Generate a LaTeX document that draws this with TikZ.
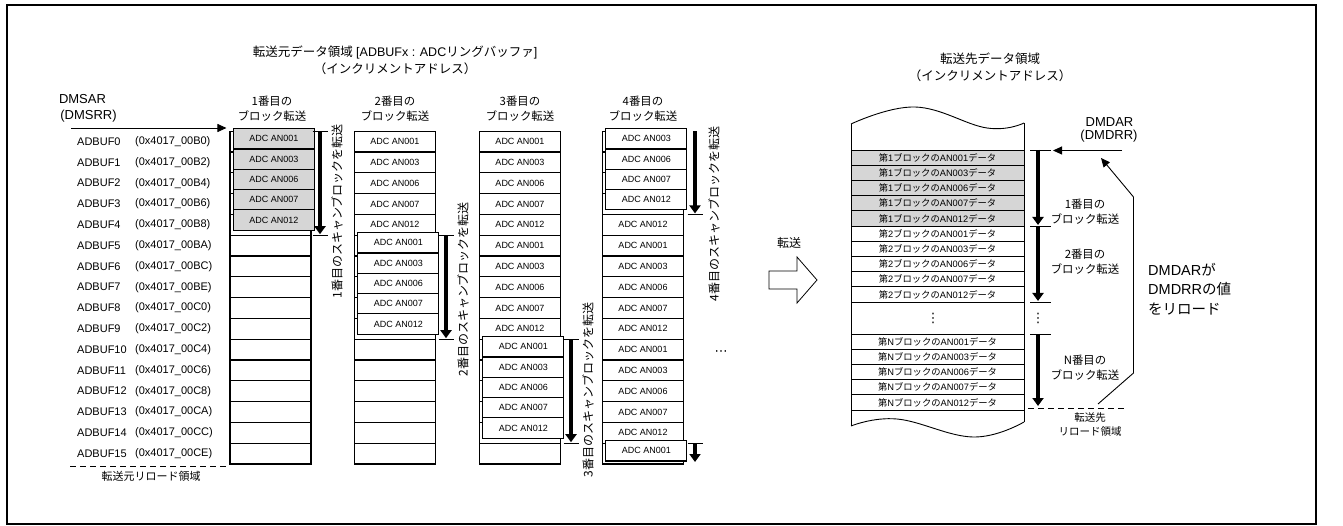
\documentclass[tikz,border=0pt]{standalone}
\usepackage{fontspec}
\setmainfont{Liberation Sans}
\newfontfamily\jpfont{Noto Sans CJK JP}
\newfontfamily\symfont{DejaVu Sans}
\newcommand{\J}[1]{{\jpfont #1}}
\usetikzlibrary{arrows.meta}

\begin{document}
\begin{tikzpicture}[x=1pt, y=-1pt, >={Triangle[length=9pt, width=8pt]},
  cell/.style={draw, line width=1.1pt, fill=white, minimum width=81pt,
    minimum height=20.8pt, inner sep=0pt, font=\fontsize{9}{10}\selectfont},
  ocell/.style={cell, minimum height=20.3pt},
  gcell/.style={ocell, fill=gray!32},
  dcell/.style={draw, line width=0.8pt, minimum width=173pt,
    minimum height=15.2pt, inner sep=0pt, font=\fontsize{9.3}{10}\selectfont},
  addr/.style={anchor=west, inner sep=0pt, font=\fontsize{11}{12}\selectfont},
  head/.style={align=center, inner sep=0pt, font=\fontsize{11.4}{15}\selectfont\jpfont},
  title/.style={align=center, inner sep=0pt, font=\fontsize{12.5}{17}\selectfont},
  reg/.style={inner sep=0pt, font=\fontsize{13}{14}\selectfont},
  vlabel/.style={rotate=90, inner sep=0pt, font=\fontsize{12}{12}\selectfont\jpfont},
  scan/.style={line width=3.6pt, -{Triangle[length=8pt, width=11pt]}, shorten >=1pt},
  tick/.style={line width=0.8pt},
  ptr/.style={line width=0.9pt, ->},
  reload/.style={line width=0.8pt, dash pattern=on 6pt off 4pt},
]
\useasboundingbox (0,0) rectangle (1343,526);
\draw[line width=1.2pt] (7,5) rectangle (1316,524); % outer frame

% titles
\node[title] (src) at (395,60)
  {\J{転送元データ領域} [ADBUFx : ADC\J{リングバッファ}]\\\J{（インクリメントアドレス）}};
\node[title] (dst) at (990,67.5)
  {\J{転送先データ領域}\\\J{（インクリメントアドレス）}};

% source registers
\node[reg] (sar) at (82.5,99) {DMSAR};
\node[reg] (srr) at (88.5,116.5) {(DMSRR)};
\foreach \k/\a in {0/B0,1/B2,2/B4,3/B6,4/B8,5/BA,6/BC,7/BE,
                   8/C0,9/C2,10/C4,11/C6,12/C8,13/CA,14/CC,15/CE}{
  \node[addr] (n\k) at (77,{141.6+20.8*\k}) {ADBUF\k};
  \node[addr] (a\k) at (135,{141.6+20.8*\k}) {(0x4017\_00\a)};
}

% block headers
\foreach \c/\x in {1/272,2/395,3/520,4/643}
  \node[head] (h\c) at (\x,108.5) {\c 番目の\\ブロック転送};

% column 1: grey block over empty buffer
\foreach \k in {0,...,15}
  \node[cell] (b1-\k) at (270.5,{141.6+20.8*\k}) {};
\foreach \t [count=\j from 0] in {001,003,006,007,012}
  \node[gcell] (o1-\j) at (273.8,{128.7+20.3*(\j+0.5)}) {ADC AN\t};

% column 2
\foreach \t [count=\k from 0] in {001,003,006,007,012}
  \node[cell] (b2-\k) at (395,{141.6+20.8*\k}) {ADC AN\t};
\foreach \k in {5,...,15}
  \node[cell] (b2-\k) at (395,{141.6+20.8*\k}) {};
\foreach \t [count=\j from 0] in {001,003,006,007,012}
  \node[ocell] (o2-\j) at (398.3,{232.7+20.3*(\j+0.5)}) {ADC AN\t};

% column 3
\foreach \t [count=\k from 0] in {001,003,006,007,012,001,003,006,007,012}
  \node[cell] (b3-\k) at (520,{141.6+20.8*\k}) {ADC AN\t};
\foreach \k in {10,...,15}
  \node[cell] (b3-\k) at (520,{141.6+20.8*\k}) {};
\foreach \t [count=\j from 0] in {001,003,006,007,012}
  \node[ocell] (o3-\j) at (523.3,{336.7+20.3*(\j+0.5)}) {ADC AN\t};

% column 4 (wraps round to the top)
\foreach \k in {0,...,3}
  \node[cell] (b4-\k) at (643,{141.6+20.8*\k}) {};
\foreach \t [count=\k from 4] in {012,001,003,006,007,012,001,003,006,007,012}
  \node[cell] (b4-\k) at (643,{141.6+20.8*\k}) {ADC AN\t};
\node[cell] (b4-15) at (643,{141.6+20.8*15}) {};
\foreach \t [count=\j from 0] in {003,006,007,012}
  \node[ocell] (o4-\j) at (646.3,{128.7+20.3*(\j+0.5)}) {ADC AN\t};
\node[ocell] (o4-4) at (646.3,450.85) {ADC AN001};

% scan arrows
\foreach \n/\x/\ya/\yb in {1/320/131.2/235.2, 2/446/235.2/339.2, 3/571/339.2/443.2}{
  \coordinate (s\n-a) at (\x,\ya);
  \coordinate (s\n-b) at (\x,\yb);
  \draw[scan] (s\n-a) -- (s\n-b);
  \draw[tick] ([xshift=-7.5pt]s\n-a) -- ([xshift=7.5pt]s\n-a);
  \draw[tick] ([xshift=-7.5pt]s\n-b) -- ([xshift=7.5pt]s\n-b);
}
\coordinate (s4-a) at (695,131.2);
\coordinate (s4-b) at (695,214.4);
\coordinate (s4-c) at (695,443.2);
\coordinate (s4-d) at (695,463);
\draw[scan] (s4-a) -- (s4-b);
\draw[scan] (s4-c) -- (s4-d);
\draw[tick] ([xshift=-7.5pt]s4-b) -- ([xshift=7.5pt]s4-b);
\draw[tick] ([xshift=-7.5pt]s4-c) -- ([xshift=7.5pt]s4-c);

\foreach \n/\x/\y in {1/337/211.5, 2/463/289.5, 3/588/390, 4/714/214}
  \node[vlabel] (v\n) at (\x,\y) {\n 番目のスキャンブロックを転送};
\node[inner sep=0pt, font=\fontsize{13}{13}\selectfont\symfont] (more) at (721,353) {⋯};

% source pointer and reload area
\coordinate (sarp) at (71,128);
\draw[ptr, shorten >=3pt] (sarp) -- (sarp -| b1-0.west);
\coordinate (sl-a) at (70,466.5);
\coordinate (sl-b) at (227,466.5);
\draw[reload] (sl-a) -- (sl-b);
\node[inner sep=0pt, font=\fontsize{11}{12}\selectfont\jpfont] (srcrl) at (151,476) {転送元リロード領域};

% transfer arrow
\draw[line width=0.8pt, fill=white] (769,271) -- (797,271) -- (797,257) -- (817,280)
  -- (797,303) -- (797,289) -- (769,289) -- cycle;
\node[inner sep=0pt, font=\fontsize{12}{12}\selectfont\jpfont] (xfer) at (789,243) {転送};

% destination area
\draw[line width=0.9pt] plot[smooth, tension=0.7] coordinates {(851,124) (915,107) (987,128) (1024,123)};
\draw[line width=0.9pt] plot[smooth, tension=0.7] coordinates {(851,426) (897,419) (973,437) (1024,422)};
\draw[line width=0.9pt] (851,124) -- (851,426);
\draw[line width=0.9pt] (1024,123) -- (1024,422);
\foreach \b/\y/\f in {1/150/gray!32, 2/226/white, N/334/white}
  \foreach \t [count=\k from 0] in {001,003,006,007,012}
    \node[dcell, fill=\f] (d\b-\k) at (937.5,{\y+15.2*(\k+0.5)})
      {\J{第}\b\J{ブロックの}AN\t\J{データ}};
\node[inner sep=0pt, font=\fontsize{13}{13}\selectfont\symfont] (vd1) at (933,318) {⋮};
\node[inner sep=0pt, font=\fontsize{13}{13}\selectfont\symfont] (vd2) at (1038,318) {⋮};

\foreach \n/\ya/\yb in {1/150/226, 2/226/302, N/334/407}{
  \coordinate (t\n-a) at (1038,\ya);
  \coordinate (t\n-b) at (1038,\yb);
  \draw[scan] (t\n-a) -- (t\n-b);
}
\foreach \y in {150,226,302,334}
  \draw[tick] (1030,\y) -- (1051,\y);
\foreach \n/\y in {1/211.5, 2/261.5, N/367.5}
  \node[head] (bt\n) at (1085,\y) {\n 番目の\\ブロック転送};

\coordinate (dl-a) at (1028,408.5);
\coordinate (dl-b) at (1125,408.5);
\draw[reload] (dl-a) -- (dl-b);
\node[head, font=\fontsize{10.5}{14}\selectfont\jpfont] (dstrl) at (1090,425) {転送先\\リロード領域};

% destination pointer and reload
\node[reg] (dar) at (1109.5,121.7) {DMDAR};
\node[reg] (drr) at (1109,136) {(DMDRR)};
\coordinate (darp) at (1122,150.5);
\coordinate (darq) at (1053,150.5);
\draw[ptr] (darp) -- (darq);
\coordinate (r0) at (1098,404);
\coordinate (r1) at (1133.5,373);
\coordinate (r2) at (1133.5,197);
\coordinate (r3) at (1101,158);
\draw[ptr] (r0) -- (r1) -- (r2) -- (r3);
\node[anchor=west, align=left, inner sep=0pt, font=\fontsize{14.5}{19.5}\selectfont] (note) at (1148,289)
  {DMDAR\J{が}\\DMDRR\J{の値}\\\J{をリロード}};
\end{tikzpicture}
\end{document}
